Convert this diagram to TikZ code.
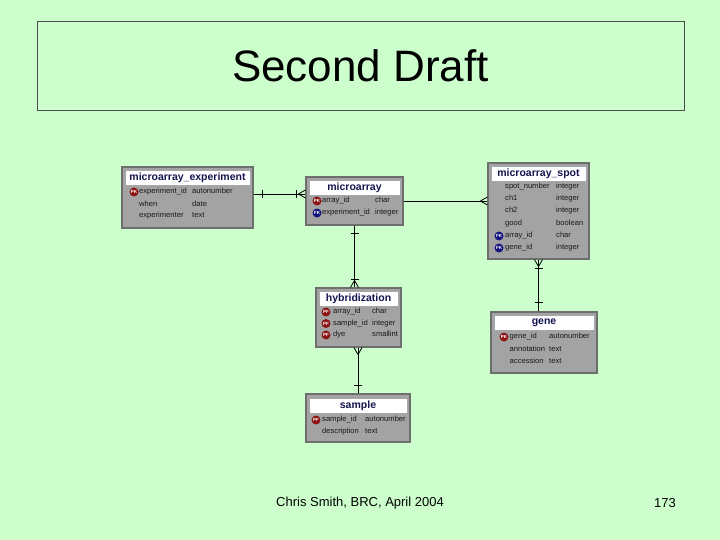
\documentclass[tikz,border=0pt]{standalone}
\usepackage{fontspec}
\setmainfont{Liberation Sans}
\usepackage{tikz}
\usetikzlibrary{positioning, decorations.markings, calc}
\definecolor{slideGreen}{HTML}{CCFFCC}
\definecolor{tableGray}{HTML}{A3A3A3}
\definecolor{tableEdge}{HTML}{6E6E6E}
\definecolor{headInk}{HTML}{141450}
\definecolor{keyRed}{HTML}{8C1414}
\definecolor{keyBlue}{HTML}{14147F}

\newcommand{\fld}[3][53pt]{\makebox[#1][l]{#2}#3}

\begin{document}
\begin{tikzpicture}[x=1pt, y=-1pt,
        tbl/.style={rectangle, draw=tableEdge, line width=1.2pt, fill=tableGray, inner sep=0pt},
        hdr/.style={rectangle, draw=gray!70, fill=white, font=\fontsize{10.5}{12}\selectfont\bfseries, text=headInk, inner sep=0pt, minimum height=15pt},
        row/.style={anchor=west, font=\fontsize{7.6}{9}\selectfont, text=black!90, inner sep=0pt},
        pk/.style={circle, fill=keyRed, text=white, font=\fontsize{4.5}{5}\selectfont\bfseries, inner sep=0pt, minimum size=9pt},
        fk/.style={pk, fill=keyBlue},
        link/.style={line width=0.8pt, black},
        onebar/.style={postaction={decorate, decoration={markings, mark=at position #1 with {\draw[line width=0.8pt] (0,-4pt) -- (0,4pt);}}}},
        crowfoot/.style={postaction={decorate, decoration={markings, mark=at position -7pt with {\draw[line width=0.8pt] (0,0) -- (7pt,4pt) (0,0) -- (7pt,-4pt);}}}}]

        % slide
        \fill[slideGreen] (0,0) rectangle (720,540);
        \useasboundingbox (0,0) rectangle (720,540);
        \node[draw=black!70, fill=slideGreen, minimum width=647pt, minimum height=89pt, font=\fontsize{44}{50}\selectfont] (titlebox) at (360.5,65.5) {Second Draft};
        \node[font=\fontsize{13}{15}\selectfont] (footer) at (360,503) {Chris Smith, BRC, April 2004};
        \node[font=\fontsize{13}{15}\selectfont] (pagenum) at (665,503) {173};

        % microarray_experiment
        \node[tbl, minimum width=131pt, minimum height=61pt] (exp) at (187.5,197.5) {};
        \node[hdr, minimum width=125pt] (exphd) at (187.5,177.5) {microarray\_experiment};
        \node[pk] (expk1) at (134,192) {PK};
        \node[row] (exr1) at (139,192) {\fld{experiment\_id}{autonumber}};
        \node[row] (exr2) at (139,204) {\fld{when}{date}};
        \node[row] (exr3) at (139,215.5) {\fld{experimenter}{text}};

        % microarray
        \node[tbl, minimum width=97pt, minimum height=48pt] (arr) at (354.5,201) {};
        \node[hdr, minimum width=91pt] (arrhd) at (354.5,188) {microarray};
        \node[pk] (arrk1) at (317,201) {PK};
        \node[fk] (arrk2) at (317,213) {FK};
        \node[row] (arrr1) at (322,201) {\fld{array\_id}{char}};
        \node[row] (arrr2) at (322,213) {\fld{experiment\_id}{integer}};

        % microarray_spot
        \node[tbl, minimum width=101pt, minimum height=96pt] (spot) at (538.5,211) {};
        \node[hdr, minimum width=95pt] (spothd) at (538.5,174) {microarray\_spot};
        \node[fk] (spotk5) at (499,236) {FK};
        \node[fk] (spotk6) at (499,248) {FK};
        \node[row] (spotr1) at (505,187) {\fld[51pt]{spot\_number}{integer}};
        \node[row] (spotr2) at (505,199) {\fld[51pt]{ch1}{integer}};
        \node[row] (spotr3) at (505,211) {\fld[51pt]{ch2}{integer}};
        \node[row] (spotr4) at (505,224) {\fld[51pt]{good}{boolean}};
        \node[row] (spotr5) at (505,236) {\fld[51pt]{array\_id}{char}};
        \node[row] (spotr6) at (505,248) {\fld[51pt]{gene\_id}{integer}};

        % hybridization
        \node[tbl, minimum width=85pt, minimum height=59pt] (hyb) at (358.5,317.5) {};
        \node[hdr, minimum width=79pt] (hybhd) at (358.5,298.5) {hybridization};
        \node[pk] (hybk1) at (326,312) {PF};
        \node[pk] (hybk2) at (326,323.5) {PF};
        \node[pk] (hybk3) at (326,335) {PF};
        \node[row] (hybr1) at (333,312) {\fld[39pt]{array\_id}{char}};
        \node[row] (hybr2) at (333,323.5) {\fld[39pt]{sample\_id}{integer}};
        \node[row] (hybr3) at (333,335) {\fld[39pt]{dye}{smallint}};

        % gene
        \node[tbl, minimum width=106pt, minimum height=61pt] (gene) at (544,342.5) {};
        \node[hdr, minimum width=100pt] (genehd) at (544,323) {gene};
        \node[pk] (genek1) at (504,337) {PK};
        \node[row] (gener1) at (509.5,337) {\fld[39.5pt]{gene\_id}{autonumber}};
        \node[row] (gener2) at (509.5,349) {\fld[39.5pt]{annotation}{text}};
        \node[row] (gener3) at (509.5,361) {\fld[39.5pt]{accession}{text}};

        % sample
        \node[tbl, minimum width=104pt, minimum height=48pt] (sam) at (358,418) {};
        \node[hdr, minimum width=98pt] (samhd) at (358,405.5) {sample};
        \node[pk] (samk1) at (316,420) {PF};
        \node[row] (samr1) at (322,420) {\fld[43pt]{sample\_id}{autonumber}};
        \node[row] (samr2) at (322,431.5) {\fld[43pt]{description}{text}};

        % relationships
        \coordinate (c1) at ([yshift=3.5pt]exp.east);
        \draw[link, onebar=9pt, crowfoot, onebar=-9pt] (c1) -- (c1 -| arr.west);
        \draw[link, crowfoot] (arr.east) -- (arr.east -| spot.west);
        \draw[link, onebar=8pt, crowfoot, onebar=-8pt] (arr.south) -- (arr.south |- hyb.north);
        \draw[link, onebar=8pt, crowfoot] (sam.north) -- (sam.north |- hyb.south);
        \draw[link, onebar=9pt, crowfoot, onebar=-9pt] (spot.south |- gene.north) -- (spot.south);
\end{tikzpicture}
\end{document}
